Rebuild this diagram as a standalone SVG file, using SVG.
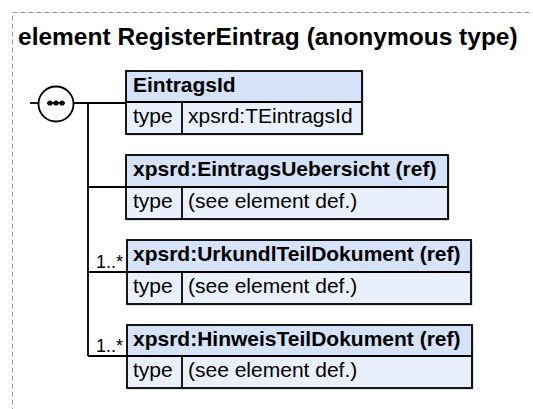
<svg xmlns="http://www.w3.org/2000/svg" width="533" height="409" viewBox="0 0 533 409">
<style>
.frame{fill:none;stroke:#9a9a9a;stroke-width:1;stroke-dasharray:5,3}
.title{font-family:"Liberation Sans",Arial,sans-serif;font-weight:bold;font-size:24.5px;fill:#000}
.hd{fill:#d5e2f7;stroke:none}
.row{fill:#eaf0fb;stroke:none}
.box{fill:none;stroke:#000;stroke-width:1.8}
.shadow{fill:#c4c4c4}
.ht{font-family:"Liberation Sans",Arial,sans-serif;font-weight:bold;font-size:21px;fill:#000}
.rt{font-family:"Liberation Sans",Arial,sans-serif;font-size:21px;fill:#000}
.ln{fill:none;stroke:#000;stroke-width:1.8}
.card{font-family:"Liberation Sans",Arial,sans-serif;font-size:18px;fill:#000;text-anchor:end}
</style>
<rect class="frame" x="12.5" y="12.5" width="600" height="500"/>
<text class="title" x="18" y="45">element RegisterEintrag (anonymous type)</text>

<g id="connectors">
  <line class="ln" x1="30" y1="103" x2="38" y2="103"/>
  <line class="ln" x1="74" y1="103" x2="126" y2="103"/>
  <line class="ln" x1="88" y1="103" x2="88" y2="356"/>
  <line class="ln" x1="88" y1="187" x2="126" y2="187"/>
  <line class="ln" x1="88" y1="272" x2="126" y2="272"/>
  <line class="ln" x1="88" y1="356" x2="126" y2="356"/>
  <text class="card" x="123" y="268">1..*</text>
  <text class="card" x="123" y="352">1..*</text>
</g>

<g id="sequence">
  <circle cx="56" cy="104" r="17.5" fill="#fff" stroke="#000" stroke-width="1.8"/>
  <line x1="47" y1="103" x2="65" y2="103" stroke="#000" stroke-width="1.5"/>
  <circle cx="50" cy="103" r="2.6"/>
  <circle cx="56" cy="103" r="2.6"/>
  <circle cx="62" cy="103" r="2.6"/>
</g>

<g id="EintragsId">
  <rect class="shadow" x="127.5" y="72.5" width="236" height="63"/>
  <rect class="hd" x="126" y="71" width="236" height="31"/>
  <rect class="row" x="126" y="102" width="236" height="32"/>
  <rect class="box" x="126" y="71" width="236" height="63"/>
  <line class="ln" x1="126" y1="102" x2="362" y2="102"/>
  <line class="ln" x1="182" y1="102" x2="182" y2="134"/>
  <text class="ht" x="133" y="92">EintragsId</text>
  <text class="rt" x="133" y="123">type</text>
  <text class="rt" x="188" y="123">xpsrd:TEintragsId</text>
</g>

<g id="EintragsUebersicht">
  <rect class="shadow" x="127.5" y="156.5" width="322" height="64"/>
  <rect class="hd" x="126" y="155" width="322" height="32"/>
  <rect class="row" x="126" y="187" width="322" height="32"/>
  <rect class="box" x="126" y="155" width="322" height="64"/>
  <line class="ln" x1="126" y1="187" x2="448" y2="187"/>
  <line class="ln" x1="182" y1="187" x2="182" y2="219"/>
  <text class="ht" x="133" y="176">xpsrd:EintragsUebersicht (ref)</text>
  <text class="rt" x="133" y="208">type</text>
  <text class="rt" x="188" y="208">(see element def.)</text>
</g>

<g id="UrkundlTeilDokument">
  <rect class="shadow" x="128.5" y="241.5" width="344" height="64"/>
  <rect class="hd" x="127" y="240" width="344" height="32"/>
  <rect class="row" x="127" y="272" width="344" height="32"/>
  <rect class="box" x="127" y="240" width="344" height="64"/>
  <line class="ln" x1="127" y1="272" x2="471" y2="272"/>
  <line class="ln" x1="182" y1="272" x2="182" y2="304"/>
  <text class="ht" x="133" y="261">xpsrd:UrkundlTeilDokument (ref)</text>
  <text class="rt" x="133" y="293">type</text>
  <text class="rt" x="188" y="293">(see element def.)</text>
</g>

<g id="HinweisTeilDokument">
  <rect class="shadow" x="128.5" y="326.5" width="345" height="63"/>
  <rect class="hd" x="127" y="325" width="345" height="31"/>
  <rect class="row" x="127" y="356" width="345" height="32"/>
  <rect class="box" x="127" y="325" width="345" height="63"/>
  <line class="ln" x1="127" y1="356" x2="472" y2="356"/>
  <line class="ln" x1="182" y1="356" x2="182" y2="388"/>
  <text class="ht" x="133" y="346">xpsrd:HinweisTeilDokument (ref)</text>
  <text class="rt" x="133" y="377">type</text>
  <text class="rt" x="188" y="377">(see element def.)</text>
</g>
</svg>
